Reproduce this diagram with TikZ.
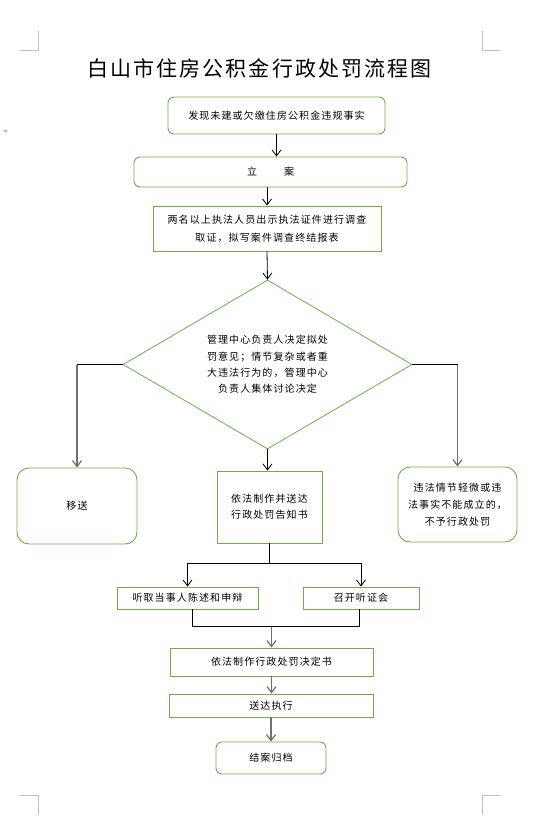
\documentclass[tikz,border=0pt]{standalone}
\usepackage{fontspec}
\setmainfont{Noto Sans CJK SC}[LetterSpace=11]
\newfontfamily\titlefont{Noto Sans CJK SC}[LetterSpace=10]
\usetikzlibrary{shapes.geometric,arrows.meta}
\definecolor{boxgreen}{HTML}{70AD47}
\definecolor{arrgray}{HTML}{707070}
\definecolor{markgray}{HTML}{BFBFBF}
\begin{document}
\begin{tikzpicture}[x=1pt,y=-1pt,
    >={Straight Barb[length=6pt,width=9pt]},
    rbox/.style={draw=boxgreen,line width=0.9pt,rounded corners=6pt,inner sep=0pt,align=center,font=\fontsize{10}{17}\selectfont},
    sbox/.style={draw=boxgreen,line width=0.9pt,inner sep=0pt,align=center,font=\fontsize{10}{17}\selectfont},
    dbox/.style={diamond,aspect=1.7,draw=boxgreen,line width=0.8pt,inner sep=0pt,align=center},
    link/.style={line width=0.8pt},
    glink/.style={draw=arrgray,line width=1.2pt},
    cropmark/.style={draw=markgray,line width=0.8pt}]
    \useasboundingbox (0,0) rectangle (541,836);
    \draw [cropmark] (20,50) -- (38,50) -- (38,31);
    \draw [cropmark] (482,31) -- (482,50) -- (500,50);
    \draw [cropmark] (20,795) -- (38,795) -- (38,815);
    \draw [cropmark] (482,815) -- (482,795) -- (500,795);
    \fill [markgray] (3,130) -- (8,130) -- (5.5,133) -- cycle;
    \node [font=\titlefont\fontsize{21}{21}\selectfont] (title) at (259.5,68) {白山市住房公积金行政处罚流程图};
    \node [rbox,minimum width=217pt,minimum height=37pt] (find) at (276.5,115.5) {发现未建或欠缴住房公积金违规事实};
    \node [rbox,minimum width=273pt,minimum height=30pt] (lian) at (270.5,172) {立\hspace{27pt}案};
    \node [sbox,minimum width=228pt,minimum height=45pt,font=\fontsize{10}{18}\selectfont] (diaocha) at (267,228.5) {两名以上执法人员出示执法证件进行调查\\取证，拟写案件调查终结报表};
    \node [dbox,minimum width=289pt,minimum height=169pt,font=\fontsize{10}{16.3}\selectfont] (decide) at (267.5,364.5) {管理中心负责人决定拟处\\罚意见；情节复杂或者重\\大违法行为的，管理中心\\负责人集体讨论决定};
    \node [rbox,rounded corners=12pt,minimum width=120pt,minimum height=76pt] (yisong) at (77,506) {移送};
    \node [sbox,minimum width=105pt,minimum height=72pt,font=\fontsize{10}{16}\selectfont] (gaozhi) at (269.5,507) {依法制作并送达\\行政处罚告知书};
    \node [rbox,rounded corners=12pt,minimum width=119pt,minimum height=75pt] (buyu) at (457.5,504.5) {违法情节轻微或违\\法事实不能成立的，\\不予行政处罚};
    \node [sbox,minimum width=141pt,minimum height=22pt] (tingqu) at (187.5,598) {听取当事人陈述和申辩};
    \node [sbox,minimum width=116pt,minimum height=22pt] (zhaokai) at (361,598) {召开听证会};
    \node [sbox,minimum width=203pt,minimum height=28pt] (jueding) at (271.5,662) {依法制作行政处罚决定书};
    \node [sbox,minimum width=204pt,minimum height=23pt] (zhixing) at (271,705.5) {送达执行};
    \node [rbox,minimum width=110pt,minimum height=32pt] (guidang) at (271,758) {结案归档};
    \draw [link,->] (find.south) -- (find.south |- lian.north);
    \draw [link,->] (lian.south -| diaocha.north) -- (diaocha.north);
    \draw [link,->] (diaocha.south) -- (decide.north);
    \draw [link,->] (decide.south) -- (decide.south |- gaozhi.north);
    \coordinate (lturn) at (decide.west -| yisong.north);
    \coordinate (rturn) at (decide.east -| buyu.north);
    \draw [link] (decide.west) -- (lturn);
    \draw [glink,->] (lturn) -- (yisong.north);
    \draw [link] (decide.east) -- (rturn);
    \draw [glink,->] (rturn) -- (buyu.north);
    \path (gaozhi.south) ++(0,20) coordinate (split);
    \draw [link] (gaozhi.south) -- (split);
    \draw [link,->] (split) -| (tingqu.north);
    \draw [link,->] (split) -| (zhaokai.north);
    \path (jueding.north) ++(0,-21) coordinate (merge);
    \draw [link] ([xshift=4.5pt]tingqu.south) |- (merge) -| ([xshift=-2pt]zhaokai.south);
    \draw [glink,->] (merge) -- (jueding.north);
    \draw [glink,->] (jueding.south) -- (jueding.south |- zhixing.north);
    \draw [glink,->] (zhixing.south) -- (zhixing.south |- guidang.north);
\end{tikzpicture}
\end{document}
